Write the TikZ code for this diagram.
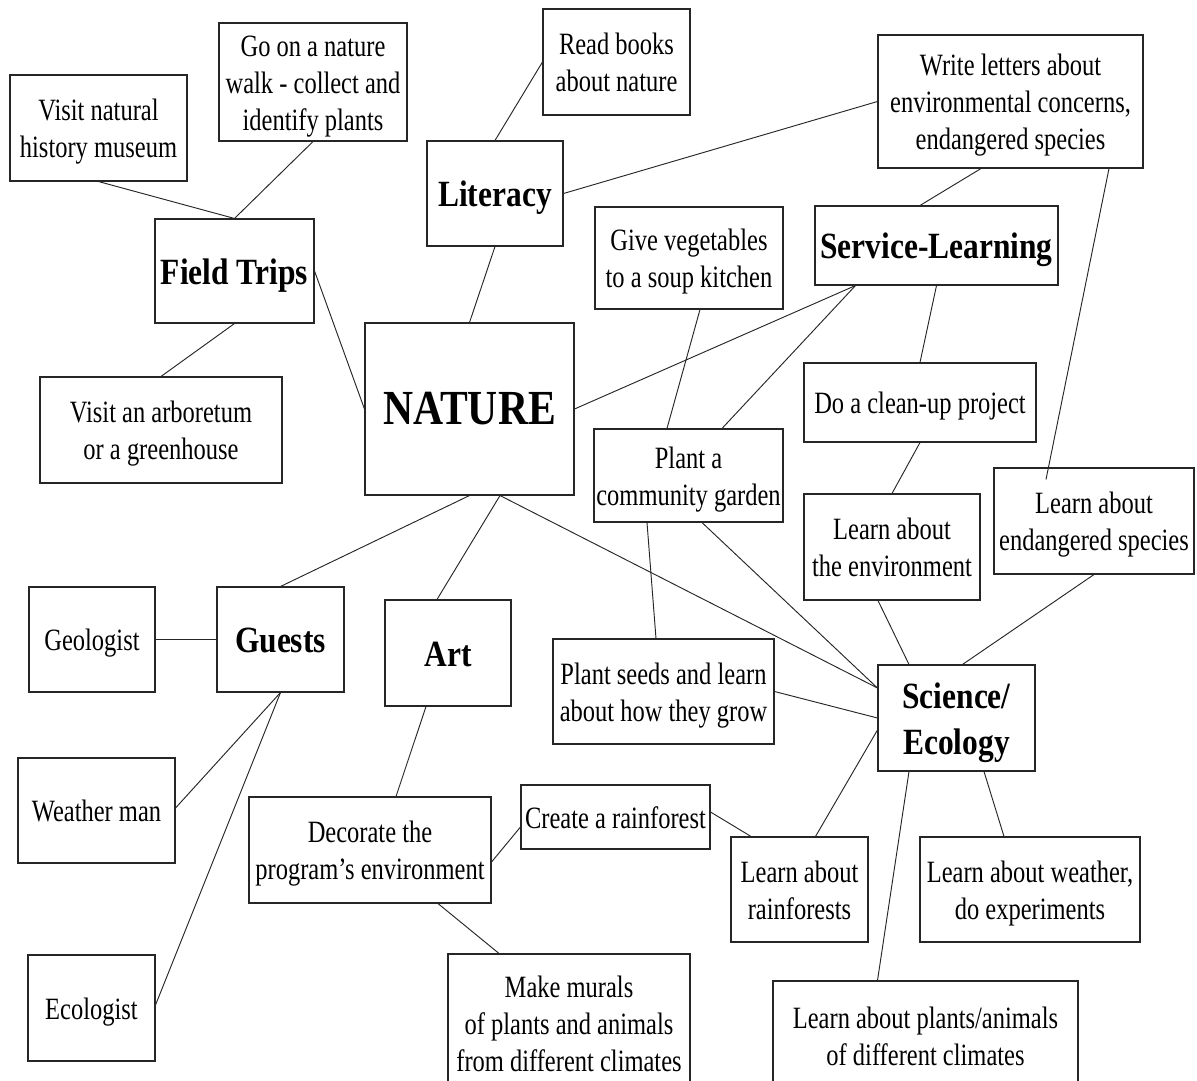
\documentclass[tikz,border=0pt]{standalone}
\usepackage{fontspec}
\setmainfont{Liberation Serif}[FakeStretch=0.79, BoldFeatures={FakeStretch=0.85}]
\usetikzlibrary{calc}
\newcommand\tx[1]{\raisebox{-3pt}[\height][\depth]{\begin{tabular}{@{}c@{}}#1\end{tabular}}}
\begin{document}
\begin{tikzpicture}[x=0.75pt,y=-0.75pt,
  cbox/.style={draw=black!85, line width=0.8pt, inner sep=0pt,
    font=\fontsize{23.25pt}{27.75pt}\selectfont},
  headbox/.style={cbox, font=\fontsize{27.75pt}{34.5pt}\selectfont\bfseries},
  sz/.style 2 args={minimum width=#1*0.75pt, minimum height=#2*0.75pt},
  conn/.style={draw=black!85, line width=0.7pt}]
\fill[white] (0,0) rectangle (1197,1081);
\useasboundingbox (0,0) rectangle (1197,1081);

% nodes
\node[cbox, sz={177}{106}] (vnm) at (98.5,128) {\tx{Visit natural\\history museum}};
\node[cbox, sz={188}{118}] (walk) at (313,82) {\tx{Go on a nature\\walk - collect and\\identify plants}};
\node[cbox, sz={147}{106}] (read) at (616.5,62) {\tx{Read books\\about nature}};
\node[headbox, sz={136}{105}] (lit) at (495,193.5) {\tx{Literacy}};
\node[cbox, sz={265}{133}] (write) at (1010.5,101.5) {\tx{Write letters about\\environmental concerns,\\endangered species}};
\node[headbox, sz={159}{104}] (field) at (234.5,271) {\tx{Field Trips}};
\node[headbox, sz={243}{79}] (serv) at (936.5,245.5) {\tx{Service-Learning}};
\node[cbox, sz={188}{102}] (veg) at (689,258) {\tx{Give vegetables\\to a soup kitchen}};
\node[cbox, sz={242}{106}] (arb) at (161,430) {\tx{Visit an arboretum\\or a greenhouse}};
\node[cbox, sz={209}{172}, font=\fontsize{36.75pt}{44pt}\selectfont\bfseries] (nat) at (469.5,409) {\tx{NATURE}};
\node[cbox, sz={232}{79}] (clean) at (920,402.5) {\tx{Do a clean-up project}};
\node[cbox, sz={189}{93}] (garden) at (688.5,475.5) {\tx{Plant a\\community garden}};
\node[cbox, sz={176}{106}] (env) at (892,547) {\tx{Learn about\\the environment}};
\node[cbox, sz={200}{106}] (endg) at (1094,521) {\tx{Learn about\\endangered species}};
\node[cbox, sz={126}{105}] (geo) at (92,639.5) {\tx{Geologist}};
\node[headbox, sz={127}{105}] (guests) at (280.5,639.5) {\tx{Guests}};
\node[headbox, sz={126}{106}] (art) at (448,653) {\tx{Art}};
\node[cbox, sz={221}{105}] (seeds) at (663.5,691.5) {\tx{Plant seeds and learn\\about how they grow}};
\node[headbox, sz={157}{106}] (sci) at (956.5,718) {\tx{Science/\\Ecology}};
\node[cbox, sz={157}{105}] (wman) at (96.5,810.5) {\tx{Weather man}};
\node[cbox, sz={242}{106}] (deco) at (370,850) {\tx{Decorate the\\program’s environment}};
\node[cbox, sz={189}{64}] (crf) at (615.5,817) {\tx{Create a rainforest}};
\node[cbox, sz={137}{105}] (lrf) at (799.5,889.5) {\tx{Learn about\\rainforests}};
\node[cbox, sz={220}{105}] (lwx) at (1030,889.5) {\tx{Learn about weather,\\do experiments}};
\node[cbox, sz={127}{106}] (eco) at (91.5,1008) {\tx{Ecologist}};
\node[cbox, sz={242}{138}] (mur) at (569,1023) {\tx{Make murals\\of plants and animals\\from different climates}};
\node[cbox, sz={305}{109}] (pla) at (925.5,1035.5) {\tx{Learn about plants/animals\\of different climates}};

% connectors
\draw[conn] (vnm.south) -- (field.north);
\draw[conn] (walk.south) -- (field.north);
\draw[conn] (field.south) -- (arb.north);
\draw[conn] (field.east) -- (nat.west);
\draw[conn] (read.west) -- (lit.north);
\draw[conn] (lit.south) -- (nat.north);
\draw[conn] (lit.east) -- (write.west);
\draw[conn] ($(write.south)+(-29.5,0)$) -- ($(serv.north)+(-16.5,0)$);
\draw[conn] ($(write.south)+(98.5,0)$) -- ($(endg.north)+(-48,12)$);
\draw[conn] ($(serv.south)+(-81,0)$) -- (nat.east);
\draw[conn] ($(serv.south)+(-81,0)$) -- ($(garden.north)+(33.5,0)$);
\draw[conn] (serv.south) -- (clean.north);
\draw[conn] ($(veg.south)+(11,0)$) -- ($(garden.north)+(-21.5,0)$);
\draw[conn] (clean.south) -- (env.north);
\draw[conn] (endg.south) -- ($(sci.north)+(6,0)$);
\draw[conn] ($(env.south)+(-14,0)$) -- ($(sci.north)+(-47.5,0)$);
\draw[conn] ($(garden.south)+(-41.5,0)$) -- ($(seeds.north)+(-7.5,0)$);
\draw[conn] ($(garden.south)+(13.5,0)$) -- ($(sci.west)+(0,-30)$);
\draw[conn] ($(nat.south)+(30.5,0)$) -- ($(sci.west)+(0,-30)$);
\draw[conn] (nat.south) -- (guests.north);
\draw[conn] ($(nat.south)+(30.5,0)$) -- ($(art.north)+(-11,0)$);
\draw[conn] (seeds.east) -- (sci.west);
\draw[conn] ($(sci.west)+(0,12)$) -- ($(lrf.north)+(16,0)$);
\draw[conn] ($(sci.south)+(-47.5,0)$) -- ($(pla.north)+(-48,0)$);
\draw[conn] ($(sci.south)+(27.5,0)$) -- ($(lwx.north)+(-26,0)$);
\draw[conn] ($(crf.east)+(0,-5)$) -- ($(lrf.north)+(-48.5,0)$);
\draw[conn] ($(crf.west)+(0,10)$) -- ($(deco.east)+(0,12)$);
\draw[conn] (geo.east) -- (guests.west);
\draw[conn] (guests.south) -- ($(wman.east)+(0,-2.5)$);
\draw[conn] (guests.south) -- ($(eco.east)+(0,-3)$);
\draw[conn] ($(art.south)+(-22,0)$) -- ($(deco.north)+(26,0)$);
\draw[conn] ($(deco.south)+(68,0)$) -- ($(mur.north)+(-70,0)$);
\end{tikzpicture}
\end{document}
